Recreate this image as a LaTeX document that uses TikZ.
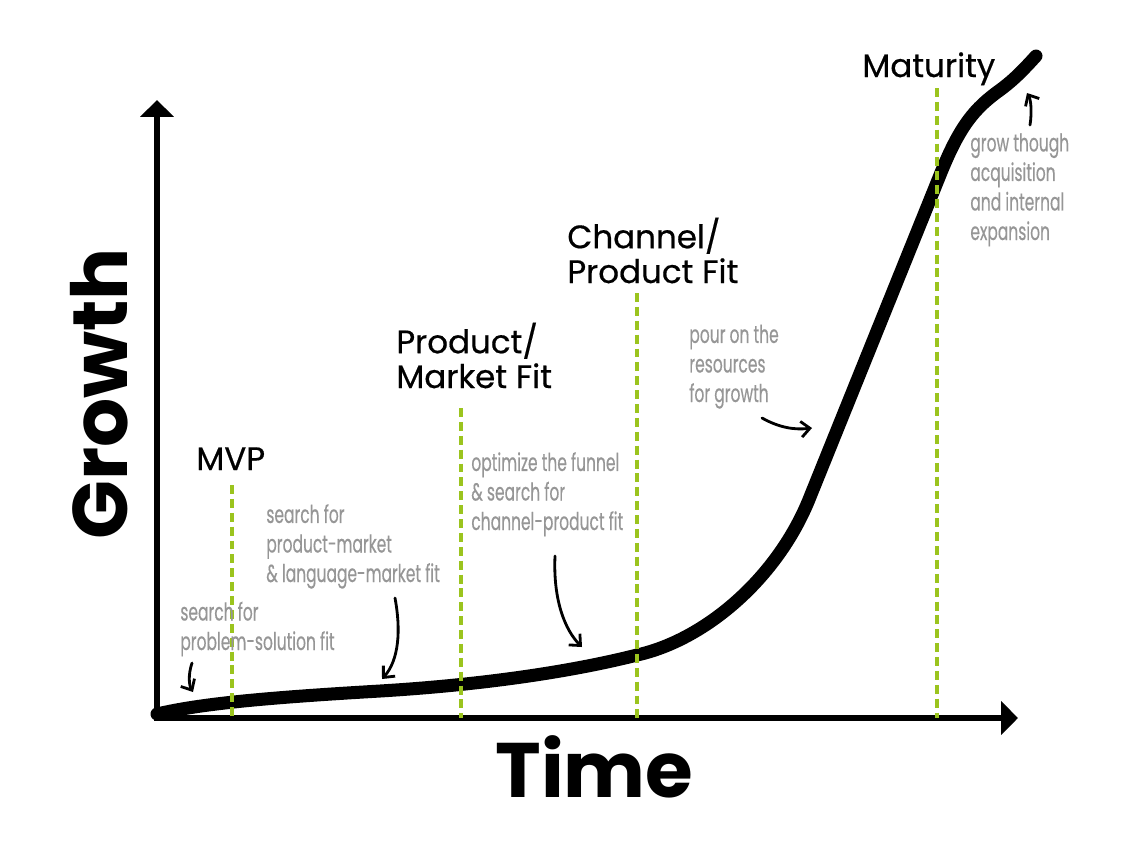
\documentclass[tikz,border=0pt]{standalone}
\usepackage{fontspec}
\setmainfont{Poppins}
\newfontfamily\labelfont[FakeBold=0.5]{Poppins}
\newfontfamily\notefont[FakeStretch=0.63,FakeBold=0.3]{Poppins}
\usetikzlibrary{arrows.meta}
\definecolor{fitgreen}{RGB}{155,196,30}
\definecolor{notegray}{RGB}{150,150,150}
\begin{document}
\begin{tikzpicture}[x=0.02cm,y=-0.02cm,
  axis/.style={line width=3.4pt, line join=miter},
  growthcurve/.style={line width=7.4pt, line cap=round, line join=round},
  fitline/.style={draw=fitgreen, line width=2.3pt, dash pattern=on 5.1pt off 2.8pt},
  fitlabel/.style={font=\labelfont\fontsize{18.5}{19.8}\selectfont, align=left, anchor=base west, inner sep=0pt},
  note/.style={font=\notefont\fontsize{14}{16.8}\selectfont, text=notegray, align=left, anchor=base west, inner sep=0pt},
  pointer/.style={line width=1.6pt, line cap=round, -{Straight Barb[length=5pt,width=9pt]}},
  axistitle/.style={font=\bfseries\fontsize{44}{44}\selectfont, inner sep=0pt, anchor=base west}]
\useasboundingbox[fill=white] (0,0) rectangle (1132,867);

% axes
\coordinate (O) at (157,718);
\coordinate (Ytip) at (157,100);
\coordinate (Xtip) at (1018,718);
\draw[axis, {Triangle[width=18.7pt,length=9.6pt]}-{Triangle[width=18.7pt,length=9.6pt]}] (Ytip) -- (O) -- (Xtip);

% axis titles
\node[axistitle, rotate=90] (growth) at (127,540) {Growth};
\node[axistitle] (time) at (495,797) {Time};

% growth curve
\draw[growthcurve] (157,714) .. controls (200,704) and (260,698) .. (380,691)
  .. controls (480,685) and (570,672) .. (637,655)
  .. controls (705,640) and (778,578) .. (810,497)
  -- (940,175)
  .. controls (960,125) and (975,108) .. (1000,90)
  .. controls (1015,79) and (1025,68) .. (1036,56);

% milestone lines
\coordinate (mvpT) at (232,485);   \coordinate (mvpB) at (232,718);
\coordinate (pmfT) at (461,408);   \coordinate (pmfB) at (461,718);
\coordinate (cpfT) at (637,293);   \coordinate (cpfB) at (637,718);
\coordinate (matT) at (937,88);    \coordinate (matB) at (937,718);
\draw[fitline] (mvpT) -- (mvpB);
\draw[fitline] (pmfT) -- (pmfB);
\draw[fitline] (cpfT) -- (cpfB);
\draw[fitline] (matT) -- (matB);

% milestone labels (anchored at the baseline of the last line)
\node[fitlabel] (mvp) at (196,470) {MVP};
\node[fitlabel] (pmf) at (396,388) {Product/\\Market Fit};
\node[fitlabel] (cpf) at (567,283) {Channel/\\Product Fit};
\node[fitlabel] (mat) at (862,77) {Maturity};

% notes (anchored at the baseline of the last line)
\node[note] (n1) at (180,650) {search for\\problem-solution fit};
\node[note] (n2) at (266,582) {search for\\product-market\\\& language-market fit};
\node[note] (n3) at (471,530) {optimize the funnel\\\& search for\\channel-product fit};
\node[note] (n4) at (689,402) {pour on the\\resources\\for growth};
\node[note] (n5) at (970,240) {grow though\\acquisition\\and internal\\expansion};

% pointers
\coordinate (p1s) at (192,663);  \coordinate (p1e) at (193,692);
\coordinate (p2s) at (395,598);  \coordinate (p2e) at (382,679);
\coordinate (p3s) at (555,556);  \coordinate (p3e) at (582,647);
\coordinate (p4s) at (762,418);  \coordinate (p4e) at (812,428);
\coordinate (p5s) at (1030,125); \coordinate (p5e) at (1027,93);
\draw[pointer] (p1s) .. controls (188,675) and (189,685) .. (p1e);
\draw[pointer] (p2s) .. controls (401,630) and (399,660) .. (p2e);
\draw[pointer] (p3s) .. controls (553,600) and (565,630) .. (p3e);
\draw[pointer] (p4s) .. controls (780,428) and (795,430) .. (p4e);
\draw[pointer] (p5s) .. controls (1032,112) and (1031,100) .. (p5e);
\end{tikzpicture}
\end{document}
